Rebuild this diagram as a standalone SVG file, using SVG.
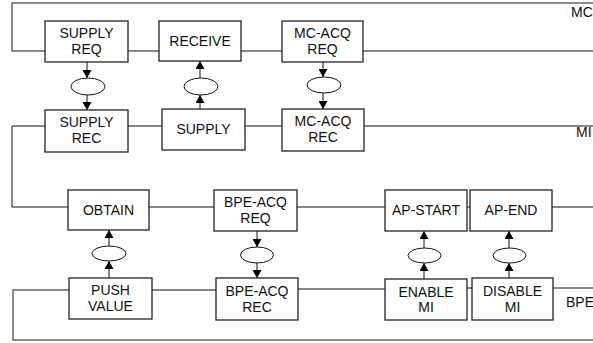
<svg xmlns="http://www.w3.org/2000/svg" width="593" height="343" viewBox="0 0 593 343">
<style>
.box{fill:#fff;stroke:#222;stroke-width:1.3}
.ln{fill:none;stroke:#111;stroke-width:1}
.frame{fill:none;stroke:#666;stroke-width:1.5}
.ell{fill:#fff;stroke:#111;stroke-width:1}
text{font-family:"Liberation Sans",Arial,sans-serif;font-size:14px;fill:#111}
.c{text-anchor:middle}
</style>
<defs>
<marker id="ah" viewBox="0 0 8 9" refX="8" refY="4.5" markerWidth="8" markerHeight="9" markerUnits="userSpaceOnUse" orient="auto">
<path d="M0,0 L8,4.5 L0,9 z" fill="#000"/>
</marker>
</defs>
<g id="connectors">
<path class="frame" d="M593,3 H12 V51 H45"/>
<path class="ln" d="M128,51 H159 M241,51 H282 M363,51 H593"/>
<path class="ln" d="M45,126 H12 V207 H68"/>
<path class="ln" d="M128,126 H162 M245,126 H282 M364,126 H593"/>
<path class="ln" d="M149,207 H214 M297,207 H385 M467,207 H470 M552,207 H593"/>
<path class="frame" d="M69,290 H13 V340 H593"/>
<path class="ln" d="M152,290 H216 M298,289 H385 M467,288 H472 M553,288 H593"/>
<line class="ln" x1="87" y1="62" x2="87" y2="78" marker-end="url(#ah)"/>
<line class="ln" x1="87" y1="95" x2="87" y2="110" marker-end="url(#ah)"/>
<line class="ln" x1="200" y1="109" x2="200" y2="95" marker-end="url(#ah)"/>
<line class="ln" x1="200" y1="78" x2="200" y2="61" marker-end="url(#ah)"/>
<line class="ln" x1="323" y1="62" x2="323" y2="77" marker-end="url(#ah)"/>
<line class="ln" x1="323" y1="93" x2="323" y2="109" marker-end="url(#ah)"/>
<line class="ln" x1="109" y1="278" x2="109" y2="261" marker-end="url(#ah)"/>
<line class="ln" x1="109" y1="246" x2="109" y2="230" marker-end="url(#ah)"/>
<line class="ln" x1="257" y1="231" x2="257" y2="247" marker-end="url(#ah)"/>
<line class="ln" x1="257" y1="263" x2="257" y2="278" marker-end="url(#ah)"/>
<line class="ln" x1="424" y1="279" x2="424" y2="263" marker-end="url(#ah)"/>
<line class="ln" x1="424" y1="248" x2="424" y2="231" marker-end="url(#ah)"/>
<line class="ln" x1="509" y1="278" x2="509" y2="263" marker-end="url(#ah)"/>
<line class="ln" x1="509" y1="248" x2="509" y2="231" marker-end="url(#ah)"/>
<ellipse class="ell" cx="88" cy="86.5" rx="17" ry="8.5"/>
<ellipse class="ell" cx="201" cy="86.5" rx="17" ry="8.5"/>
<ellipse class="ell" cx="324" cy="85" rx="17" ry="8"/>
<ellipse class="ell" cx="109" cy="253.5" rx="17" ry="7.5"/>
<ellipse class="ell" cx="257" cy="255" rx="16.5" ry="8"/>
<ellipse class="ell" cx="424.5" cy="255.5" rx="16.5" ry="7.5"/>
<ellipse class="ell" cx="509.5" cy="255.5" rx="16.5" ry="7.5"/>
</g>
<g id="supply-req"><rect class="box" x="45" y="21" width="83" height="41"/><text class="c" x="86.5" y="38">SUPPLY</text><text class="c" x="86.5" y="54">REQ</text></g>
<g id="receive"><rect class="box" x="159" y="21" width="82" height="40"/><text class="c" x="200" y="46">RECEIVE</text></g>
<g id="mc-acq-req"><rect class="box" x="282" y="21" width="81" height="41"/><text class="c" x="322.5" y="38">MC-ACQ</text><text class="c" x="322.5" y="54">REQ</text></g>
<g id="supply-rec"><rect class="box" x="45" y="110" width="83" height="42"/><text class="c" x="86.5" y="127">SUPPLY</text><text class="c" x="86.5" y="143">REC</text></g>
<g id="supply"><rect class="box" x="162" y="109" width="83" height="41"/><text class="c" x="203.5" y="134">SUPPLY</text></g>
<g id="mc-acq-rec"><rect class="box" x="282" y="109" width="82" height="42"/><text class="c" x="323" y="126">MC-ACQ</text><text class="c" x="323" y="142">REC</text></g>
<g id="obtain"><rect class="box" x="68" y="190" width="81" height="40"/><text class="c" x="108.5" y="215">OBTAIN</text></g>
<g id="bpe-acq-req"><rect class="box" x="214" y="190" width="83" height="41"/><text class="c" x="255.5" y="207">BPE-ACQ</text><text class="c" x="255.5" y="223">REQ</text></g>
<g id="ap-start"><rect class="box" x="385" y="190" width="82" height="41"/><text class="c" x="426" y="215">AP-START</text></g>
<g id="ap-end"><rect class="box" x="470" y="190" width="82" height="41"/><text class="c" x="511" y="215">AP-END</text></g>
<g id="push-value"><rect class="box" x="69" y="278" width="83" height="41"/><text class="c" x="110.5" y="295">PUSH</text><text class="c" x="110.5" y="311">VALUE</text></g>
<g id="bpe-acq-rec"><rect class="box" x="216" y="278" width="82" height="42"/><text class="c" x="257" y="296">BPE-ACQ</text><text class="c" x="257" y="312">REC</text></g>
<g id="enable-mi"><rect class="box" x="385" y="279" width="82" height="41"/><text class="c" x="426" y="297">ENABLE</text><text class="c" x="426" y="312">MI</text></g>
<g id="disable-mi"><rect class="box" x="472" y="278" width="81" height="42"/><text class="c" x="512.5" y="296">DISABLE</text><text class="c" x="512.5" y="312">MI</text></g>
<g id="labels">
<text x="571" y="17">MC</text>
<text x="576" y="137">MI</text>
<text x="566" y="307">BPE</text>
</g>
</svg>
